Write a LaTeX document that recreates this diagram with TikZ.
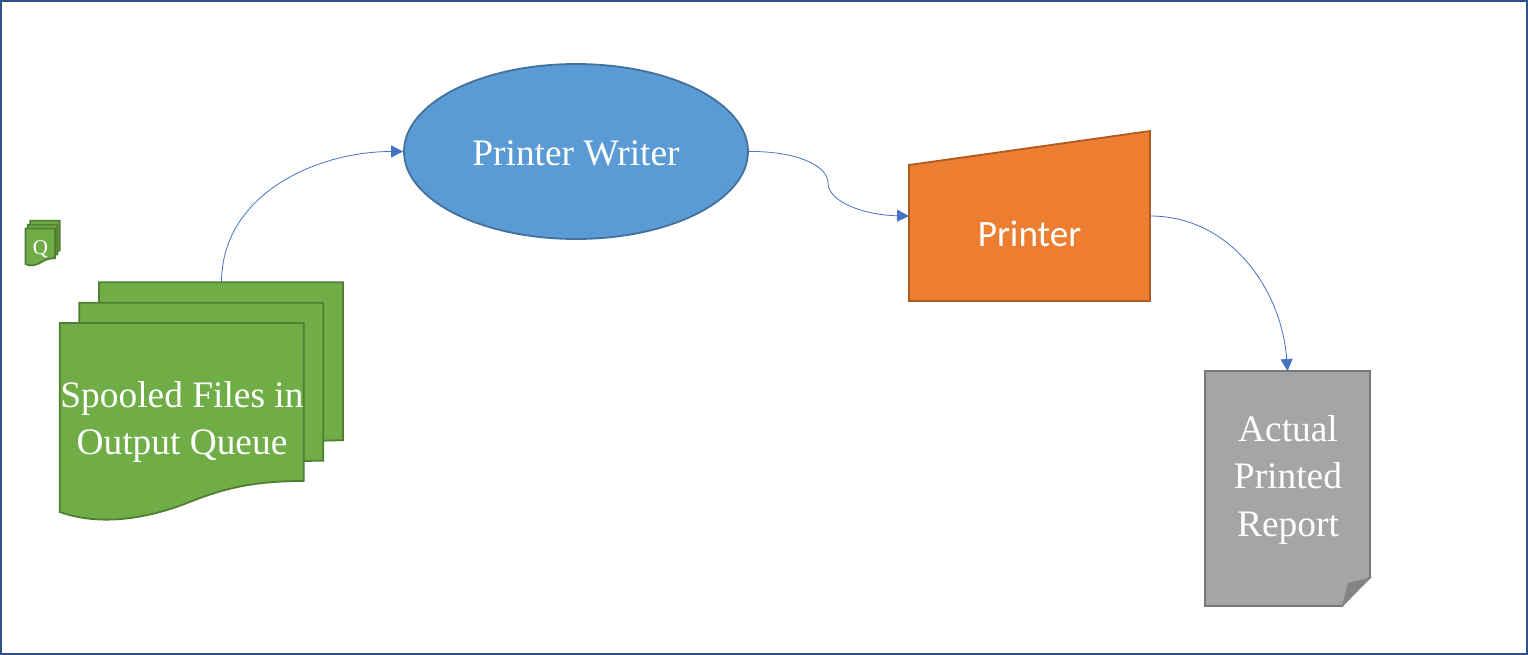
\documentclass[tikz,border=0pt]{standalone}
\usepackage{fontspec}
\setmainfont{Liberation Serif}
\newfontfamily\printerfont{Carlito}
\usetikzlibrary{arrows.meta,shapes.geometric}

\definecolor{framecol}{HTML}{2F528F}
\definecolor{linkcol}{HTML}{4472C4}
\definecolor{sheetfill}{HTML}{70AD47}
\definecolor{sheetline}{HTML}{507E32}
\definecolor{writerfill}{HTML}{5B9BD5}
\definecolor{writerline}{HTML}{41719C}
\definecolor{printerfill}{HTML}{ED7D31}
\definecolor{printerline}{HTML}{AE5A21}
\definecolor{reportfill}{HTML}{A5A5A5}
\definecolor{reportline}{HTML}{787878}
\definecolor{foldfill}{HTML}{848484}

\tikzset{
    bigtext/.style = {text = white, align = center, inner sep = 0pt, font = \fontsize{37.4}{47.5}\selectfont},
    link/.style = {draw = linkcol, line width = 0.8pt, -{Triangle[length = 12pt, width = 12pt]}},
    spot/.style = {minimum width = #1, inner sep = 0pt, outer sep = 0pt},
    sheet/.style = {fill = sheetfill, draw = sheetline, line width = 1.8pt, line join = miter},
    pics/spoolstack/.style = {code = {
        % Three sheets, the back one first
        \foreach \dx/\dy in {39.3/40.7,19.5/20.3,0/0} {
            \path [sheet, shift = {(\dx,-\dy)}] (0,0) -- (244,0) -- (244,158)
                .. controls (195,158) and (165,165) .. (130,179)
                .. controls (95,193) and (45,205) .. (0,189) -- cycle;
        }
    }}
}

\begin{document}
\begin{tikzpicture}[x = 1pt, y = -1pt]
    \useasboundingbox (0,0) rectangle (1528,655);
    \draw [framecol, line width = 2pt] (1,1) rectangle (1527,654);

    % Small stack with its letter
    \pic [xscale = 0.121, yscale = 0.188] at (25.5,228.5) {spoolstack};
    \node [text = white, inner sep = 0pt, font = \fontsize{21}{24}\selectfont] (smallq) at (40.5,249.5) {Q};

    % Big stack, with a spot on the back sheet for the link
    \pic at (59.7,323) {spoolstack};
    \node [spot = 245pt, minimum height = 159pt] (spoolback) at (221.5,362) {};
    \node [bigtext] (spooltext) at (182,422) {Spooled Files in\\Output Queue};

    \node [draw = writerline, fill = writerfill, line width = 1.8pt, ellipse, inner sep = 0pt,
           minimum width = 344pt, minimum height = 175pt, bigtext, text height = 29pt] (writer) at (576,151.5) {Printer Writer};

    % Printer box, its top edge falls to the left
    \node [spot = 241pt, minimum height = 170pt] (printer) at (1029.5,216) {};
    \draw [fill = printerfill, draw = printerline, line width = 1.8pt]
        (printer.south west) -- (printer.south east) -- (printer.north east) -- (909,165) -- cycle;
    \node [bigtext, font = \printerfont\fontsize{37.2}{47.5}\selectfont] (printertext) at (1029.5,234) {Printer};

    % Report page with a turned corner
    \node [spot = 165pt, minimum height = 235pt] (report) at (1287.5,488.5) {};
    \draw [fill = reportfill, draw = reportline, line width = 1.8pt]
        (report.north west) -- (report.north east) -- (1370,577) -- (1342,606) -- (report.south west) -- cycle;
    \fill [foldfill] (1342,606) -- (1348,583) -- (1372,577) -- cycle;
    \node [bigtext] (reporttext) at (1288,480) {Actual\\Printed\\Report};

    % Links
    \draw [link] (spoolback.north) to [out = 90, in = 180] (writer.west);
    \draw [link] (writer.east) .. controls (795,151) and (828,165) .. (828,183)
        .. controls (828,201) and (862,215) .. (printer.west);
    \draw [link] (printer.east) to [out = 0, in = 94] (report.north);
\end{tikzpicture}
\end{document}
